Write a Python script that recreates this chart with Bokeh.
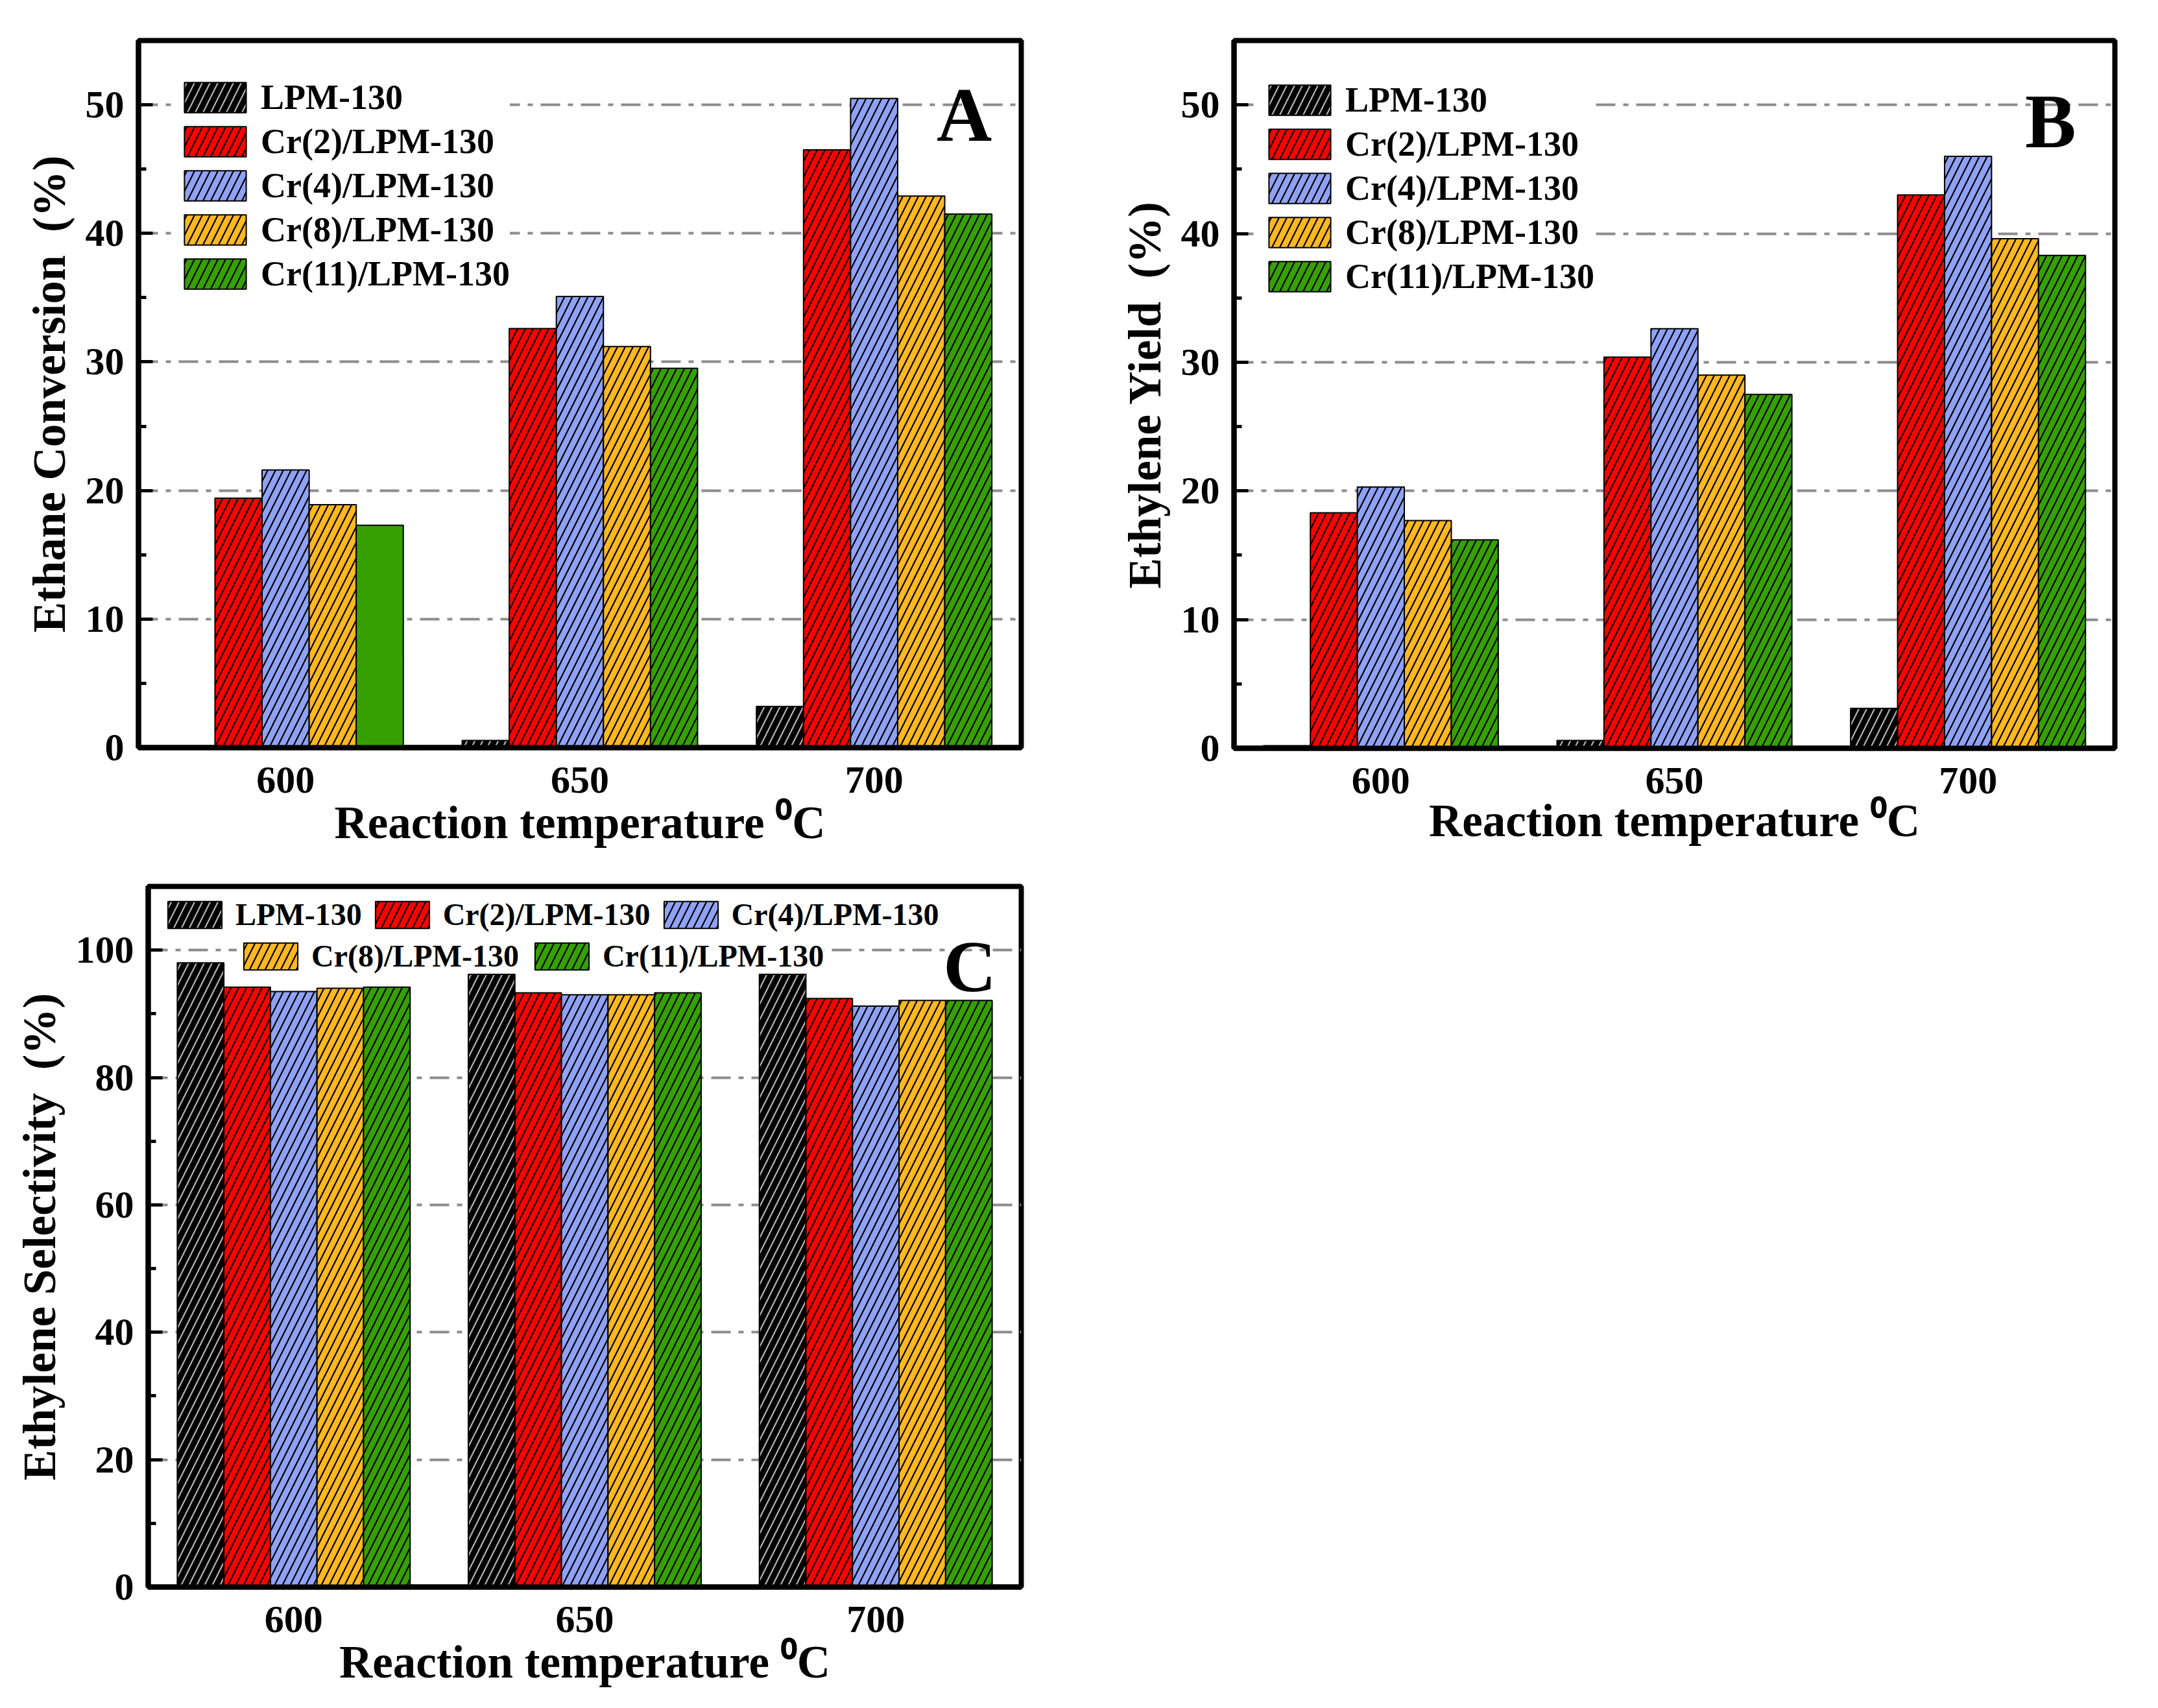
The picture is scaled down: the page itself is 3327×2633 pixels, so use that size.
from bokeh.plotting import figure
from bokeh.models import (Range1d, FixedTicker, SingleIntervalTicker, Legend,
                          LegendItem, Label, ColumnDataSource)
from bokeh.layouts import column, row
from bokeh.transform import dodge
from bokeh.embed import file_html
from bokeh.resources import INLINE

# ---------------- data ----------------
temps = [600, 650, 700]
series = ["LPM-130", "Cr(2)/LPM-130", "Cr(4)/LPM-130", "Cr(8)/LPM-130", "Cr(11)/LPM-130"]

# A: Ethane conversion (%)
conv_lpm = [0.0, 0.55, 3.2]
conv_cr2 = [19.4, 32.6, 46.5]
conv_cr4 = [21.6, 35.1, 50.5]
conv_cr8 = [18.9, 31.2, 42.9]
conv_cr11 = [17.3, 29.5, 41.5]

# B: Ethylene yield (%)
yield_lpm = [0.2, 0.6, 3.1]
yield_cr2 = [18.3, 30.4, 43.0]
yield_cr4 = [20.3, 32.6, 46.0]
yield_cr8 = [17.7, 29.0, 39.6]
yield_cr11 = [16.2, 27.5, 38.3]

# C: Ethylene selectivity (%)
sel_lpm = [98.0, 96.2, 96.2]
sel_cr2 = [94.2, 93.3, 92.4]
sel_cr4 = [93.5, 93.0, 91.2]
sel_cr8 = [94.0, 93.0, 92.1]
sel_cr11 = [94.2, 93.3, 92.1]

x_ticks = [600, 650, 700]

# ---------------- styles ----------------
fills = ["#000000", "#FF0000", "#8FA2F6", "#FFB81E", "#36A000"]
hatch_cols = ["#B4B4B4", "#000000", "#000000", "#000000", "#000000"]
offsets = [-16, -8, 0, 8, 16]
BAR_W = 8
FONT = "Liberation Serif"


def build(vals, ymax, yint, ylabel, letter, letter_x, letter_y, letter_size,
          geom, label_standoff=4, hatch_override=None):
    fw, fh, bl, br, bt, bb = geom
    p = figure(frame_width=fw, frame_height=fh, min_border_left=bl,
               min_border_right=br, min_border_top=bt, min_border_bottom=bb,
               x_range=Range1d(575, 725), y_range=Range1d(0, ymax),
               output_backend="svg", toolbar_location=None,
               background_fill_color="white", border_fill_color="white")
    p.outline_line_color = "black"
    p.outline_line_width = 8
    p.xgrid.grid_line_color = None
    p.ygrid.grid_line_color = "#8C8C8C"
    p.ygrid.grid_line_width = 4
    p.ygrid.grid_line_dash = "30 12 8 12"

    p.xaxis.ticker = FixedTicker(ticks=x_ticks)
    p.yaxis.ticker = SingleIntervalTicker(interval=yint, num_minor_ticks=2)
    for ax in (p.xaxis, p.yaxis):
        ax.axis_line_width = 8
        ax.axis_line_color = "black"
        ax.major_label_text_font = FONT
        ax.major_label_text_font_style = "bold"
        ax.major_label_text_font_size = "60px"
        ax.major_label_text_color = "black"
        ax.axis_label_text_font = FONT
        ax.axis_label_text_font_style = "bold"
        ax.axis_label_text_font_size = "71px"
        ax.axis_label_text_color = "black"
    p.xaxis.major_tick_line_color = None
    p.xaxis.minor_tick_line_color = None
    p.xaxis.major_label_standoff = 24
    p.xaxis.axis_label_standoff = label_standoff
    p.yaxis.major_tick_in = 22
    p.yaxis.major_tick_out = 0
    p.yaxis.minor_tick_in = 12
    p.yaxis.minor_tick_out = 0
    p.yaxis.major_tick_line_width = 5
    p.yaxis.minor_tick_line_width = 5
    p.yaxis.major_label_standoff = 22
    p.yaxis.axis_label_standoff = 14
    p.xaxis.axis_label = "Reaction temperature \u2070C"
    p.yaxis.axis_label = ylabel

    renderers = []
    for i, name in enumerate(series):
        hatch = ["/"] * len(temps)
        if hatch_override and i in hatch_override:
            hatch = hatch_override[i]
        src = ColumnDataSource(dict(temp=temps, top=vals[i], hatch=hatch))
        r = p.vbar(x=dodge("temp", offsets[i], range=p.x_range), top="top",
                   width=BAR_W, bottom=0, source=src,
                   fill_color=fills[i], line_color="black", line_width=2,
                   hatch_pattern="hatch", hatch_color=hatch_cols[i],
                   hatch_scale=24, hatch_weight=2.2)
        renderers.append(r)

    p.add_layout(Label(x=letter_x, y=letter_y, text=letter, text_align="right",
                       text_baseline="alphabetic", text_font=FONT,
                       text_font_style="bold", text_font_size=letter_size,
                       text_color="black"))
    return p, renderers


def style_legend(lg, font_size, gw, gh, spacing):
    lg.label_text_font = FONT
    lg.label_text_font_style = "bold"
    lg.label_text_font_size = font_size
    lg.label_text_color = "black"
    lg.glyph_width = gw
    lg.glyph_height = gh
    lg.label_standoff = 11
    lg.spacing = spacing
    lg.padding = 4
    lg.margin = 0
    lg.border_line_color = None
    lg.background_fill_color = "white"
    lg.background_fill_alpha = 1.0


YL_GAP = " \u00a0"

# ---------------- panel A ----------------
vals_a = [conv_lpm, conv_cr2, conv_cr4, conv_cr8, conv_cr11]
pA, rA = build(vals_a, 55, 10, "Ethane Conversion" + YL_GAP + "(%)", "A", 720, 49.2, "118px",
               (1361, 1090, 213, 115, 62, 180),
               hatch_override={4: [" ", "/", "/"]})
itemsA = [LegendItem(label=s, renderers=[r], index=(1 if i == 4 else 0))
          for i, (s, r) in enumerate(zip(series, rA))]
lgA = Legend(items=itemsA, location=(59, 699), orientation="vertical")
style_legend(lgA, "54px", 119, 58, 6)
pA.add_layout(lgA)

# ---------------- panel B ----------------
vals_b = [yield_lpm, yield_cr2, yield_cr4, yield_cr8, yield_cr11]
pB, rB = build(vals_b, 55, 10, "Ethylene Yield" + YL_GAP + "(%)", "B", 718.4, 48.7, "118px",
               (1358, 1091, 213, 30, 56, 185), label_standoff=0)
itemsB = [LegendItem(label=s, renderers=[r]) for s, r in zip(series, rB)]
lgB = Legend(items=itemsB, location=(42, 696), orientation="vertical")
style_legend(lgB, "54px", 119, 58, 6)
pB.add_layout(lgB)

# ---------------- panel C ----------------
vals_c = [sel_lpm, sel_cr2, sel_cr4, sel_cr8, sel_cr11]
pC, rC = build(vals_c, 110, 20, "Ethylene Selectivity" + YL_GAP + "(%)", "C", 720.7, 97.5, "113px",
               (1346, 1080, 228, 20, 34, 160))
lgC1 = Legend(items=[LegendItem(label=series[i], renderers=[rC[i]]) for i in range(3)],
              location=(20, 1009), orientation="horizontal")
style_legend(lgC1, "48px", 104, 52, 10)
lgC2 = Legend(items=[LegendItem(label=series[i], renderers=[rC[i]]) for i in range(3, 5)],
              location=(137, 945), orientation="horizontal")
style_legend(lgC2, "48px", 104, 52, 14)
pC.add_layout(lgC1)
pC.add_layout(lgC2)

layout = column(row(pA, pB), row(pC))
open("out.html", "w").write(file_html(layout, INLINE))
